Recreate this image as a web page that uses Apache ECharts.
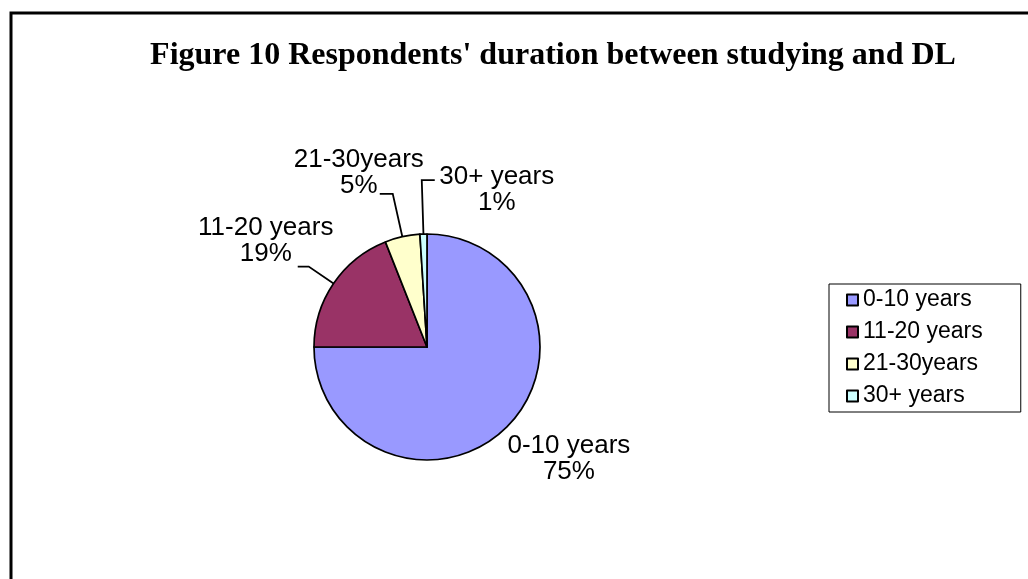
<!DOCTYPE html>
<html>
<head>
<meta charset="utf-8">
<script src="https://cdn.jsdelivr.net/npm/echarts@6/dist/echarts.min.js"></script>
<style>
  html, body { margin: 0; padding: 0; background: #fff; }
  #chart { width: 1028px; height: 579px; }
</style>
</head>
<body>
<div id="chart"></div>
<script>
// data
var categories = ['0-10 years', '11-20 years', '21-30years', '30+ years'];
var shares = [75, 19, 5, 1];
var sliceColors = ['#9999FF', '#993366', '#FFFFCC', '#CCFFFF'];

// leader line shape per slice: radial length, horizontal length (+ right / - left), label offset from line end
var leader = [
  { len: 0,  len2: 0,   dx: 62,  dy: 32 },   // 0-10: no line drawn
  { len: 30, len2: -11, dx: -32, dy: -26 },
  { len: 44, len2: -13, dx: -21, dy: -21 },
  { len: 54, len2: 13,  dx: 62,  dy: 10 }
];

var chart = echarts.init(document.getElementById('chart'));

var pieData = [];
for (var i = 0; i < categories.length; i++) {
  pieData.push({ name: categories[i], value: shares[i], itemStyle: { color: sliceColors[i] } });
}

chart.setOption({
  animation: false,
  graphic: [
    { type: 'rect', shape: { x: 11, y: 13, width: 1100, height: 700 },
      style: { fill: 'none', stroke: '#000', lineWidth: 3 }, z: 10 },
    { type: 'text', x: 553, y: 56,
      style: { text: "Figure 10 Respondents' duration between studying and DL",
               font: 'bold 32px "Liberation Serif"', fill: '#000',
               textAlign: 'center', textVerticalAlign: 'middle' } }
  ],
  legend: {
    orient: 'vertical',
    left: 829, top: 284,
    data: categories,
    icon: 'rect',
    itemWidth: 11, itemHeight: 11, itemGap: 0,
    padding: [0, 38, 0, 17],
    borderColor: '#000', borderWidth: 1,
    textStyle: { fontFamily: 'Liberation Sans', fontSize: 23, color: '#000', lineHeight: 32 }
  },
  series: [{
    type: 'pie',
    center: [427, 347],
    radius: 113,
    startAngle: 90,
    clockwise: true,
    avoidLabelOverlap: false,
    itemStyle: { borderColor: '#000', borderWidth: 1.7 },
    label: {
      show: true,
      position: 'outside',
      color: '#000',
      fontFamily: 'Liberation Sans',
      fontSize: 26,
      lineHeight: 26,
      formatter: function (p) { return p.name + '\n' + Math.round(p.percent) + '%'; }
    },
    labelLine: { show: true, length: 20, length2: 10, lineStyle: { color: '#000', width: 1.8 } },
    labelLayout: function (p) {
      var pts = p.labelLinePoints;
      var L = leader[p.dataIndex];
      if (!pts) return {};
      var a = pts[0];
      var vx = pts[1][0] - a[0], vy = pts[1][1] - a[1];
      var n = Math.sqrt(vx * vx + vy * vy) || 1;
      var b = [a[0] + vx / n * L.len, a[1] + vy / n * L.len];
      var c = [b[0] + L.len2, b[1]];
      return {
        x: c[0] + L.dx,
        y: c[1] + L.dy,
        align: 'center',
        verticalAlign: 'middle',
        labelLinePoints: [a, b, c]
      };
    },
    emphasis: { disabled: true },
    data: pieData
  }]
});
</script>
</body>
</html>
